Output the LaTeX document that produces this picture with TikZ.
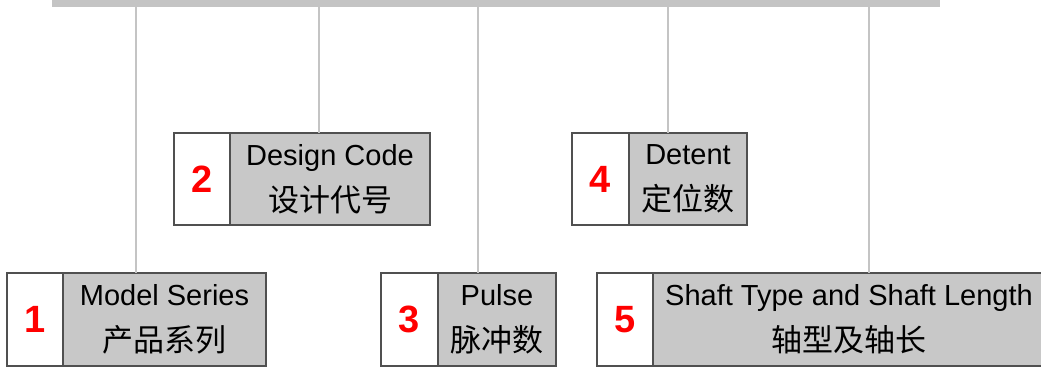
\documentclass[tikz,border=0pt]{standalone}
\usepackage{fontspec}
\setmainfont{Liberation Sans}
\newfontfamily\cjk{Noto Sans CJK SC}
\usetikzlibrary{positioning}

\definecolor{bargray}{HTML}{C4C4C4}
\definecolor{cellgray}{HTML}{C8C8C8}
\definecolor{edgegray}{HTML}{505050}
\newcommand{\zh}[1]{{\cjk\fontsize{31}{46}\selectfont #1}}

\begin{document}
\begin{tikzpicture}[
    x=1pt, y=-1pt,
    numbox/.style={rectangle, draw=edgegray, line width=1.2pt, fill=white, minimum width=56pt, minimum height=93pt, inner sep=0pt, outer sep=0pt, text=red, font=\fontsize{38}{38}\selectfont\bfseries},
    labelbox/.style={rectangle, draw=edgegray, line width=1.2pt, fill=cellgray, minimum height=93pt, inner sep=0pt, outer sep=0pt, align=center, font=\fontsize{29}{46}\selectfont},
    tick/.style={draw=bargray, line width=2pt}
]
\useasboundingbox (0,0) rectangle (1041,367);

\node[fill=bargray, minimum width=888pt, minimum height=7pt, inner sep=0pt, outer sep=0pt, anchor=north west] (bar) at (52,0) {};

\node[numbox, anchor=north west] (num1) at (7,273) {1};
\node[labelbox, minimum width=203pt, right=0pt of num1] (lab1) {Model Series\\\zh{产品系列}};
\node[numbox, minimum height=92pt, anchor=north west] (num2) at (174,133) {2};
\node[labelbox, minimum width=200pt, minimum height=92pt, right=0pt of num2] (lab2) {Design Code\\\zh{设计代号}};
\node[numbox, minimum width=57pt, anchor=north west] (num3) at (381,273) {3};
\node[labelbox, minimum width=118pt, right=0pt of num3] (lab3) {Pulse\\\zh{脉冲数}};
\node[numbox, minimum width=57pt, minimum height=92pt, anchor=north west] (num4) at (572,133) {4};
\node[labelbox, minimum width=118pt, minimum height=92pt, right=0pt of num4] (lab4) {Detent\\\zh{定位数}};
\node[numbox, anchor=north west] (num5) at (597,273) {5};
\node[labelbox, minimum width=392pt, right=0pt of num5] (lab5) {Shaft Type and Shaft Length\\\zh{轴型及轴长}};

\draw[tick] (136,0 |- bar.south) -- (136,0 |- lab1.north);
\draw[tick] (319,0 |- bar.south) -- (319,0 |- lab2.north);
\draw[tick] (478,0 |- bar.south) -- (478,0 |- lab3.north);
\draw[tick] (668,0 |- bar.south) -- (668,0 |- lab4.north);
\draw[tick] (869,0 |- bar.south) -- (869,0 |- lab5.north);
\end{tikzpicture}
\end{document}
